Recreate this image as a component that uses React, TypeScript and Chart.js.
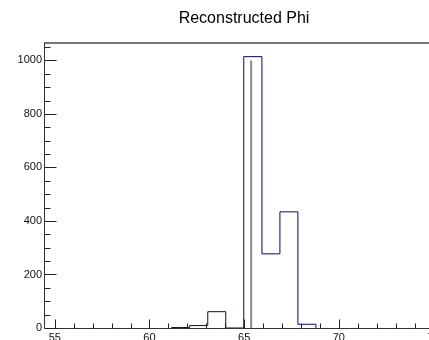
import React, { useEffect, useRef } from "react";
import { Chart, registerables } from "chart.js";

Chart.register(...registerables);

// Histogram data: lower bin edges and counts (bin width ~0.953)
const binLowEdges = [61.17, 62.12, 63.08, 64.03, 64.98, 65.94, 66.89, 67.84];
const binWidth = 0.953;
const binCounts = [2, 9, 61, 0, 1014, 277, 434, 14];

// Gray vertical marker line
const markerX = 65.37;
const markerTop = 1000;

// Axes
const xMin = 54.43;
const xMax = 77.88;
const yMin = 0;
const yMax = 1065;
const xMajorTicks = [55, 60, 65, 70, 75];
const xMinorStep = 1;
const yMajorTicks = [0, 200, 400, 600, 800, 1000];
const yMinorStep = 50;

const titleText = "Reconstructed Phi";
const FONT = "'Liberation Sans', Arial, Helvetica, sans-serif";

export default function App() {
  const canvasRef = useRef<HTMLCanvasElement | null>(null);

  useEffect(() => {
    const canvas = canvasRef.current;
    if (!canvas) return;

    const histPoints: { x: number; y: number }[] = [];
    histPoints.push({ x: binLowEdges[0], y: 0 });
    binLowEdges.forEach((e, i) => histPoints.push({ x: e, y: binCounts[i] }));
    const lastHigh = binLowEdges[binLowEdges.length - 1] + binWidth;
    histPoints.push({ x: lastHigh, y: binCounts[binCounts.length - 1] });
    histPoints.push({ x: lastHigh, y: 0 });

    const framePlugin = {
      id: "rootFrame",
      afterDatasetsDraw(chart: any) {
        const { ctx, chartArea } = chart;
        const xs = chart.scales.x;
        const ys = chart.scales.y;
        ctx.save();
        const left = Math.round(chartArea.left) + 0.5;
        const bottom = Math.round(chartArea.bottom) + 0.5;
        const top = Math.round(chartArea.top);
        const right = Math.round(chartArea.right);
        // top/right frame (gray, 2px)
        ctx.strokeStyle = "#777";
        ctx.lineWidth = 2;
        ctx.beginPath();
        ctx.moveTo(left - 0.5, top);
        ctx.lineTo(right, top);
        ctx.lineTo(right, bottom);
        ctx.stroke();
        // axes
        ctx.lineWidth = 1;
        ctx.strokeStyle = "#333";
        ctx.beginPath();
        ctx.moveTo(left, top);
        ctx.lineTo(left, bottom);
        ctx.lineTo(right, bottom);
        ctx.stroke();
        ctx.strokeStyle = "#222";
        ctx.beginPath();
        // x ticks (inside, upward)
        for (let v = Math.ceil(xMin); v <= xMax; v += xMinorStep) {
          const px = Math.round(xs.getPixelForValue(v)) + 0.5;
          const len = xMajorTicks.includes(v) ? 9 : 5;
          ctx.moveTo(px, bottom);
          ctx.lineTo(px, bottom - len);
        }
        // y ticks (inside, rightward)
        for (let v = yMin; v <= yMax; v += yMinorStep) {
          const py = Math.round(ys.getPixelForValue(v)) + 0.5;
          const len = yMajorTicks.includes(v) ? 12 : 6;
          ctx.moveTo(left, py);
          ctx.lineTo(left + len, py);
        }
        ctx.stroke();
        ctx.restore();
      },
    };

    const chart = new Chart(canvas, {
      type: "line",
      data: {
        datasets: [
          {
            data: [
              { x: markerX, y: 0 },
              { x: markerX, y: markerTop },
            ],
            borderColor: "#8a8a8a",
            borderWidth: 2,
            pointRadius: 0,
            fill: false,
          },
          {
            data: histPoints,
            borderColor: "#000099",
            borderWidth: 1,
            pointRadius: 0,
            fill: false,
            stepped: "before",
          },
        ],
      },
      options: {
        responsive: false,
        animation: false,
        layout: { padding: 0 },
        plugins: {
          legend: { display: false },
          tooltip: { enabled: false },
          title: {
            display: true,
            text: titleText,
            color: "#000",
            font: { family: FONT, size: 16, weight: "normal" },
            padding: { top: 9, bottom: 14.8 },
          },
        },
        scales: {
          x: {
            type: "linear",
            position: "bottom",
            min: xMin,
            max: xMax,
            grid: { display: false, drawTicks: false },
            border: { display: false },
            ticks: {
              color: "#111",
              font: { family: FONT, size: 11 },
              padding: 3,
              maxRotation: 0,
              autoSkip: false,
              callback: (v: any) => String(v),
            },
            afterBuildTicks: (s: any) => {
              s.ticks = xMajorTicks.map((v) => ({ value: v }));
            },
            afterFit: (s: any) => {
              s.height = 12;
            },
          },
          y: {
            type: "linear",
            min: yMin,
            max: yMax,
            grid: { display: false, drawTicks: false },
            border: { display: false },
            ticks: {
              color: "#111",
              font: { family: FONT, size: 11 },
              padding: 2,
              autoSkip: false,
              callback: (v: any) => String(v),
            },
            afterBuildTicks: (s: any) => {
              s.ticks = yMajorTicks.map((v) => ({ value: v }));
            },
            afterFit: (s: any) => {
              s.width = 44;
            },
          },
        },
      },
      plugins: [framePlugin],
    });

    return () => {
      chart.destroy();
    };
  }, []);

  return (
    <div
      style={{
        position: "fixed",
        left: 0,
        top: 0,
        width: 488,
        height: 340,
        background: "#fff",
      }}
    >
      <canvas ref={canvasRef} width={488} height={340} style={{ width: 488, height: 340 }} />
    </div>
  );
}
